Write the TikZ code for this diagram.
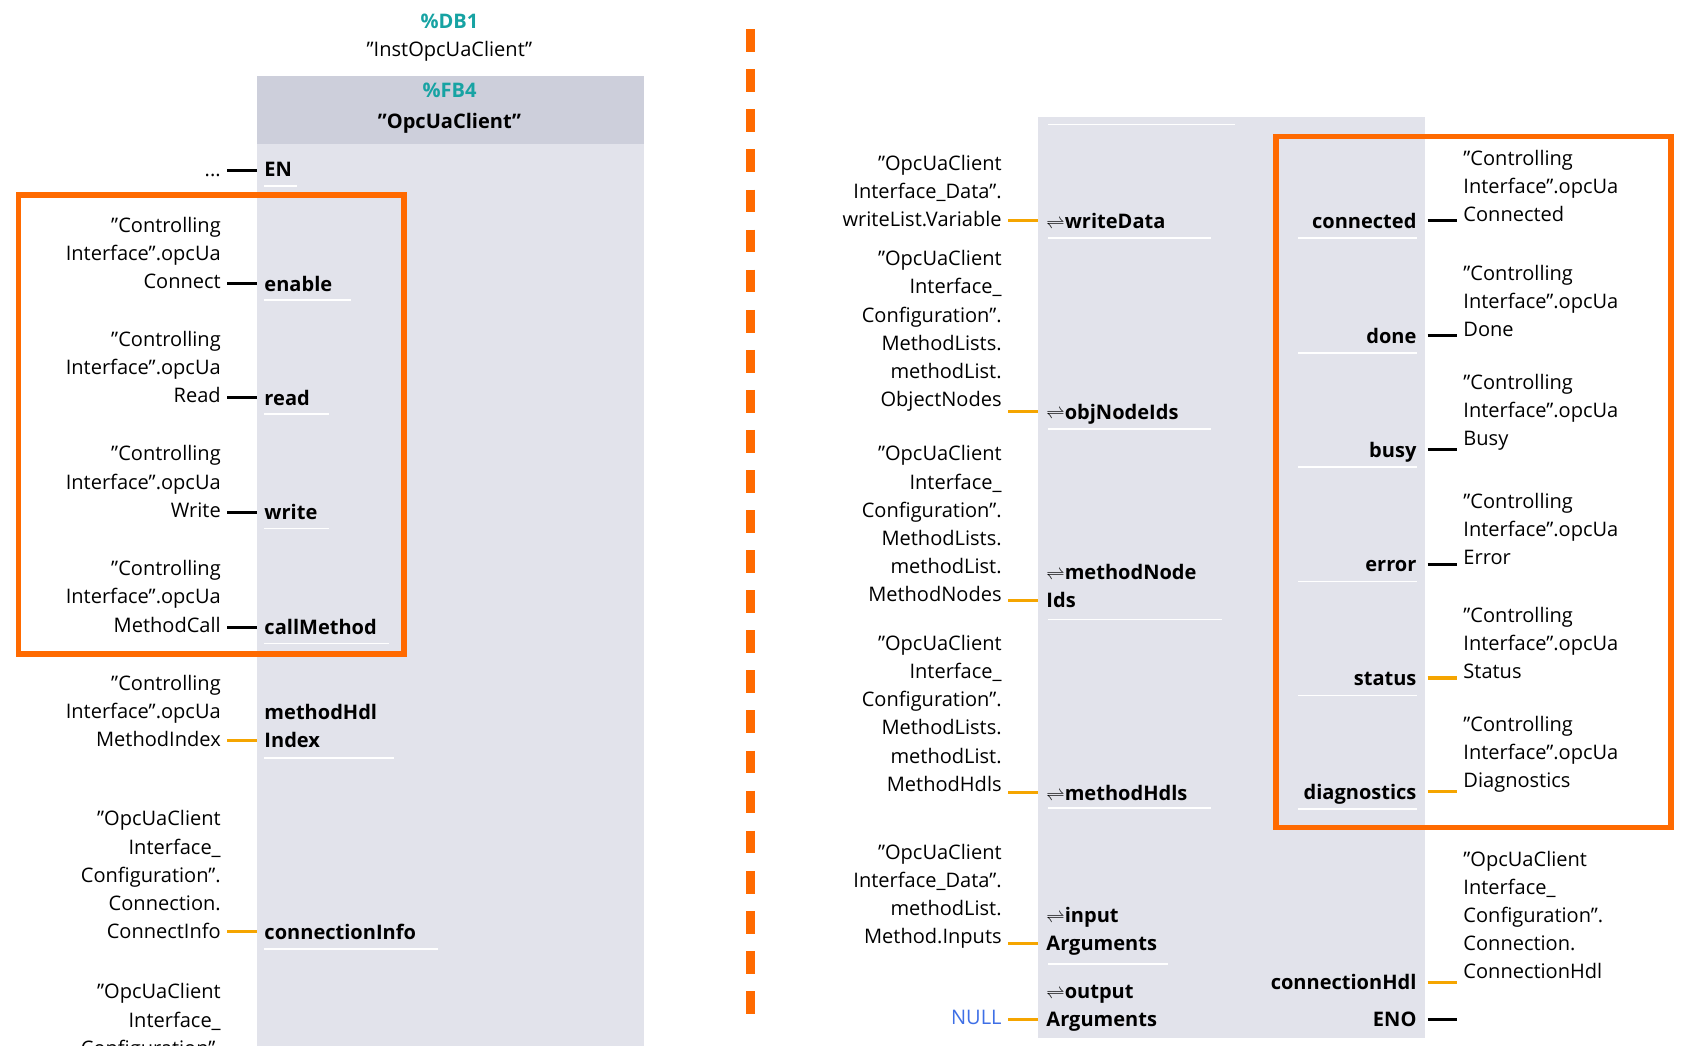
\documentclass[tikz,border=0pt]{standalone}
\usepackage{fontspec}
\setmainfont{Open Sans}
\newcommand\q{\symbol{34}}
\definecolor{boxo}{HTML}{FF6A00}
\definecolor{pino}{HTML}{F5A500}
\definecolor{teal}{HTML}{17A3A3}
\definecolor{blk}{HTML}{E2E3EB}
\definecolor{hdr}{HTML}{CDCFDB}
\definecolor{nul}{HTML}{3E6FE6}
\begin{document}
\begin{tikzpicture}[x=1pt,y=-1pt,
  every node/.style={font=\fontsize{18.5}{26}\selectfont, inner sep=0pt},
  lt/.style={anchor=south east, align=right},
  rt/.style={anchor=south west, align=left},
  pinl/.style={anchor=base west, font=\fontsize{18.5}{26}\selectfont\bfseries, align=left},
  pinr/.style={anchor=base east, font=\fontsize{18.5}{26}\selectfont\bfseries, align=right},
  bw/.style={line width=2.8pt, black},
  ow/.style={line width=2.8pt, pino},
  ul/.style={white, line width=1.5pt},
  frame/.style={boxo, line width=5pt}]
\useasboundingbox (0,0) rectangle (1565,965);
\begin{scope}
\clip (0,0) rectangle (1565,965);
% left block
\fill[blk] (237,70) rectangle (595,975);
\fill[hdr] (237,70) rectangle (595,133);
\node[teal, font=\fontsize{18.5}{26}\selectfont\bfseries] (db) at (415,20) {\%DB1};
\node (inst) at (415,47) {\q InstOpcUaClient\q};
\node[teal, font=\fontsize{18.5}{26}\selectfont\bfseries] (fb) at (415,83) {\%FB4};
\node[font=\fontsize{18.5}{26}\selectfont\bfseries] (fbn) at (415,114) {\q OpcUaClient\q};
% left pins
\coordinate (ENa) at (210,157); \coordinate (ENb) at (237,157);
\node[lt] (ENt) at (204,163) {...};
\draw[bw] (ENa) -- (ENb);
\node[pinl] (EN) at (244,163) {EN};
\foreach \n/\y/\t in {en/262/Connect, rd/367/Read, wr/473/Write, cm/579/MethodCall}{
  \node[lt] (\n t) at (204,\y+5) {\q Controlling\\Interface\q.opcUa\\\t};
  \coordinate (\n a) at (210,\y); \coordinate (\n b) at (237,\y);
  \draw[bw] (\n a) -- (\n b);
}
\node[pinl] (enable) at (244,269) {enable};
\node[pinl] (read) at (244,374) {read};
\node[pinl] (write) at (244,480) {write};
\node[pinl] (callMethod) at (244,586) {callMethod};
\node[lt] (mit) at (204,690) {\q Controlling\\Interface\q.opcUa\\MethodIndex};
\coordinate (mia) at (210,684); \coordinate (mib) at (237,684);
\draw[ow] (mia) -- (mib);
\node[pinl] (mi) at (244,690) {methodHdl\\Index};
\node[lt] (cit) at (204,867) {\q OpcUaClient\\Interface\_\\Configuration\q.\\Connection.\\ConnectInfo};
\coordinate (cia) at (210,860); \coordinate (cib) at (237,860);
\draw[ow] (cia) -- (cib);
\node[pinl] (ci) at (244,867) {connectionInfo};
\node[anchor=north east, align=right] (bt) at (204,908) {\q OpcUaClient\\Interface\_\\Configuration\q.};
\foreach \y/\w in {172/30,277/80,382/60,488/60,594/115,700/120,876/160}{
  \draw[ul] (244,\y) -- ++(\w,0);}
\draw[frame] (17,180) rectangle (373,604);
% dashed separator
\coordinate (d1) at (693,27); \coordinate (d2) at (693,948);
\draw[boxo, line width=8pt, dash pattern=on 21pt off 16pt] (d1) -- (d2);
% right block
\fill[blk] (958,108) rectangle (1316,958);
\draw[ul] (968,115) -- (1140,115);
\node[lt] (wdt) at (925,210) {\q OpcUaClient\\Interface\_Data\q.\\writeList.Variable};
\node[lt] (ont) at (925,380) {\q OpcUaClient\\Interface\_\\Configuration\q.\\MethodLists.\\methodList.\\ObjectNodes};
\node[lt] (mnt) at (925,556) {\q OpcUaClient\\Interface\_\\Configuration\q.\\MethodLists.\\methodList.\\MethodNodes};
\node[lt] (mht) at (925,731) {\q OpcUaClient\\Interface\_\\Configuration\q.\\MethodLists.\\methodList.\\MethodHdls};
\node[lt] (iat) at (925,876) {\q OpcUaClient\\Interface\_Data\q.\\methodList.\\Method.Inputs};
\node[anchor=base east, nul] (nullt) at (925,946) {NULL};
\foreach \n/\y in {wd/204,on/380,mn/554,mh/732,ia/871,oa/941}{
  \coordinate (\n a) at (931,\y); \coordinate (\n b) at (958,\y);
  \draw[ow] (\n a) -- (\n b);}
\node[pinl] (writeData) at (966,211) {$\rightleftharpoons$writeData};
\node[pinl] (objNodeIds) at (966,387) {$\rightleftharpoons$objNodeIds};
\node[pinl] (methodNodeIds) at (966,561) {$\rightleftharpoons$methodNode\\Ids};
\node[pinl] (methodHdls) at (966,739) {$\rightleftharpoons$methodHdls};
\node[pinl] (inputArgs) at (966,878) {$\rightleftharpoons$input\\Arguments};
\node[pinl] (outputArgs) at (966,948) {$\rightleftharpoons$output\\Arguments};
\foreach \y/\w in {220/150,396/150,572/160,746/150,890/110}{
  \draw[ul] (968,\y) -- ++(\w,0);}
% outputs
\foreach \n/\y/\t/\c in {co/204/Connected/bw, dn/310/Done/bw, bu/415/Busy/bw, er/521/Error/bw, st/626/Status/ow, dg/731/Diagnostics/ow}{
  \coordinate (\n a) at (1318,\y); \coordinate (\n b) at (1345,\y);
  \draw[\c] (\n a) -- (\n b);
  \node[rt] (\n t) at (1351,\y+1) {\q Controlling\\Interface\q.opcUa\\\t};
  \draw[ul] (1308,\y+16) -- ++(-110,0);
}
\node[pinr] (connected) at (1308,211) {connected};
\node[pinr] (done) at (1308,317) {done};
\node[pinr] (busy) at (1308,422) {busy};
\node[pinr] (error) at (1308,528) {error};
\node[pinr] (status) at (1308,633) {status};
\node[pinr] (diagnostics) at (1308,738) {diagnostics};
\coordinate (cha) at (1318,907); \coordinate (chb) at (1345,907);
\draw[ow] (cha) -- (chb);
\node[rt] (cht) at (1351,904) {\q OpcUaClient\\Interface\_\\Configuration\q.\\Connection.\\ConnectionHdl};
\node[pinr] (chdl) at (1308,914) {connectionHdl};
\coordinate (enoa) at (1318,941); \coordinate (enob) at (1345,941);
\draw[bw] (enoa) -- (enob);
\node[pinr] (ENO) at (1308,948) {ENO};
\draw[frame] (1178,126) rectangle (1543,764);
\end{scope}
\end{tikzpicture}
\end{document}
